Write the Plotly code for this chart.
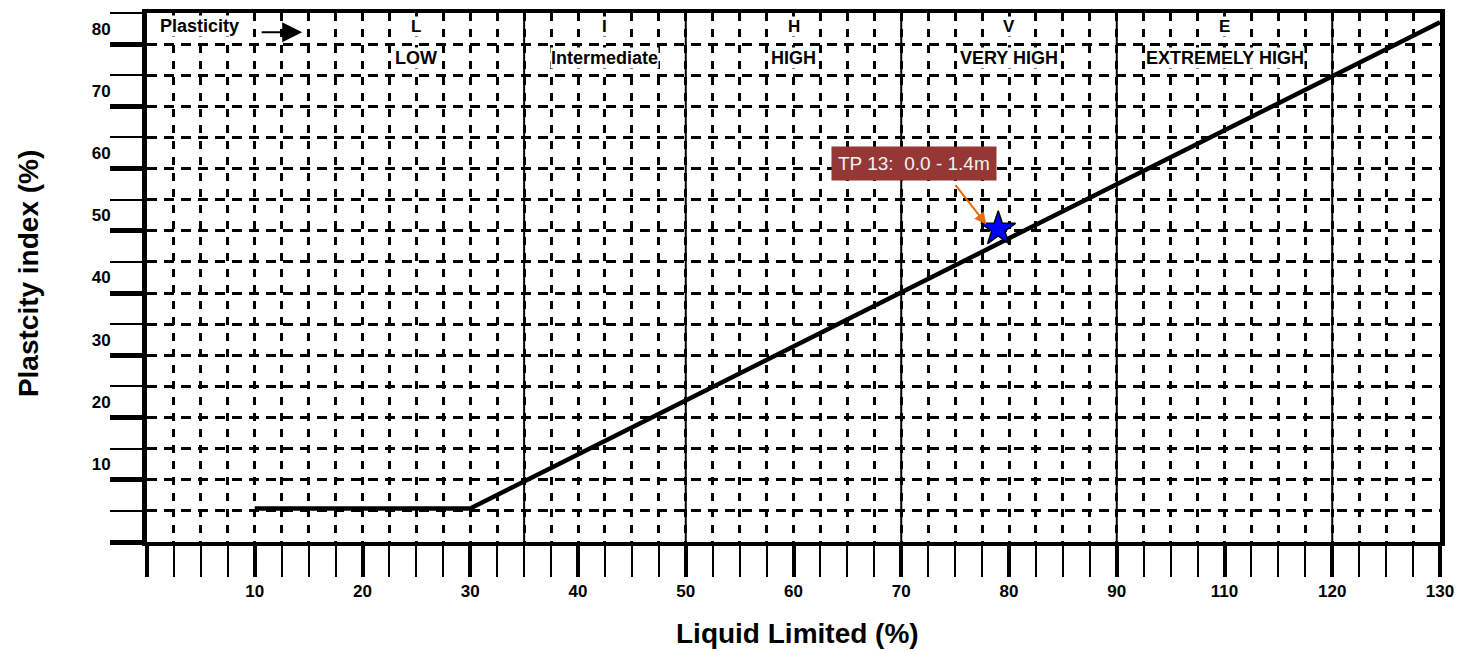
import plotly.graph_objects as go

# ---------------- data ----------------
a_line_ll = [10, 30, 120]
a_line_pi = [5.4, 5.4, 83.5]

sample_label = "TP 13:  0.0 - 1.4m"
sample_ll = [79]
sample_pi = [50.3]

zone_bounds = [35, 50, 70, 90, 110]
zone_letters = ["L", "I", "H", "V", "E"]
zone_names = ["LOW", "Intermediate", "HIGH", "VERY HIGH", "EXTREMELY HIGH"]
zone_label_x = [25, 42.5, 60, 80, 100]

x_tick_vals = [0, 10, 20, 30, 40, 50, 60, 70, 80, 90, 100, 110, 120]
x_tick_text = ["", "10", "20", "30", "40", "50", "60", "70", "80", "90", "110", "120", "130"]
y_tick_vals = [0, 10, 20, 30, 40, 50, 60, 70, 80]
y_label_vals = [12.5, 22.5, 32.5, 42.5, 52.5, 62.5, 72.5, 82.5]
y_label_text = ["10", "20", "30", "40", "50", "60", "70", "80"]

X_RANGE = [0, 120]
Y_RANGE = [0, 85]

FONT = "Arial, 'Liberation Sans', sans-serif"

fig = go.Figure()

fig.add_trace(go.Scatter(
    x=a_line_ll, y=a_line_pi, mode="lines",
    line=dict(color="black", width=4.5),
    hoverinfo="skip", showlegend=False))

fig.add_trace(go.Scatter(
    x=sample_ll, y=sample_pi, mode="markers",
    marker=dict(symbol="star", size=26, color="#0000ff",
                line=dict(color="black", width=1.5)),
    name=sample_label, showlegend=False))

# dummy trace to activate the label axis
fig.add_trace(go.Scatter(x=[None], y=[None], yaxis="y2", showlegend=False,
                         hoverinfo="skip"))

shapes = []
for b in zone_bounds:
    shapes.append(dict(type="line", xref="x", yref="y", x0=b, x1=b,
                       y0=Y_RANGE[0], y1=Y_RANGE[1],
                       line=dict(color="black", width=2)))

annotations = []
for xl, letter, name in zip(zone_label_x, zone_letters, zone_names):
    annotations.append(dict(x=xl, y=82.9, xref="x", yref="y", text=letter,
                            showarrow=False, bgcolor="white", borderpad=0,
                            font=dict(family=FONT, size=17, color="black", weight="bold")))
    annotations.append(dict(x=xl, y=77.8, xref="x", yref="y", text=name,
                            showarrow=False, bgcolor="white", borderpad=0,
                            font=dict(family=FONT, size=18, color="black", weight="bold")))

annotations.append(dict(x=4.9, y=82.9, xref="x", yref="y", text="Plasticity",
                        showarrow=False, bgcolor="white", borderpad=0,
                        font=dict(family=FONT, size=18, color="black", weight="bold")))
annotations.append(dict(x=14.4, y=81.9, xref="x", yref="y", text="",
                        showarrow=True, ax=-42, ay=0, arrowhead=2, arrowsize=2,
                        arrowwidth=2, arrowcolor="black"))

# sample callout
annotations.append(dict(x=77.9, y=51.0, xref="x", yref="y", text="",
                        showarrow=True, ax=-32, ay=-41, arrowhead=2, arrowsize=1.2,
                        arrowwidth=2, arrowcolor="#E46C0A"))
annotations.append(dict(x=71.2, y=60.8, xref="x", yref="y", text=sample_label,
                        showarrow=False, bgcolor="#953735", borderpad=6,
                        font=dict(family=FONT, size=19, color="#f2f2f2")))

# axis titles (pixel positions converted to paper coordinates below)
annotations.append(dict(x=798, y=634, xref="paper", yref="paper", text="Liquid Limited (%)",
                        showarrow=False, xanchor="center", yanchor="middle",
                        font=dict(family=FONT, size=28, color="black", weight="bold")))
annotations.append(dict(x=28, y=272, xref="paper", yref="paper", text="Plastcity index (%)",
                        showarrow=False, textangle=-90, xanchor="center", yanchor="middle",
                        font=dict(family=FONT, size=28, color="black", weight="bold")))

L, R, T, B = 147, 22, 9, 109
W, H = 1463, 651
pw, ph = W - L - R, H - T - B
for a in annotations[-2:]:
    px, py = a["x"], a["y"]
    a["x"] = (px - L) / pw
    a["y"] = (H - B - py) / ph

fig.update_layout(
    width=W, height=H,
    margin=dict(l=L, r=R, t=T, b=B),
    paper_bgcolor="white", plot_bgcolor="white",
    font=dict(family=FONT, color="black"),
    showlegend=False,
    shapes=shapes,
    annotations=annotations,
    xaxis=dict(
        range=X_RANGE, showline=True, linewidth=4, linecolor="black", mirror=True,
        zeroline=False,
        tickmode="array", tickvals=x_tick_vals, ticktext=x_tick_text,
        ticks="outside", ticklen=31, tickwidth=4, tickcolor="black",
        tickfont=dict(family=FONT, size=17, color="black", weight="bold"),
        showgrid=True, griddash="8px,8px", gridcolor="black", gridwidth=2.5,
        minor=dict(tickmode="linear", tick0=0, dtick=2.5, ticks="outside", ticklen=31,
                   tickwidth=2, tickcolor="black", showgrid=True,
                   griddash="8px,8px", gridcolor="black", gridwidth=2.5),
    ),
    yaxis=dict(
        range=Y_RANGE, showline=True, linewidth=5, linecolor="black", mirror=True,
        zeroline=False,
        tickmode="array", tickvals=y_tick_vals, showticklabels=False,
        ticks="outside", ticklen=32, tickwidth=5, tickcolor="black",
        showgrid=True, griddash="10px,7px", gridcolor="black", gridwidth=2.5,
        minor=dict(tickmode="linear", tick0=0, dtick=5, ticks="outside", ticklen=32,
                   tickwidth=1.5, tickcolor="black", showgrid=True,
                   griddash="10px,7px", gridcolor="black", gridwidth=2.5),
    ),
    yaxis2=dict(
        range=Y_RANGE, overlaying="y", side="left", showgrid=False, zeroline=False,
        showline=False, tickmode="array", tickvals=y_label_vals, ticktext=y_label_text,
        ticks="outside", ticklen=32, tickcolor="rgba(0,0,0,0)",
        tickfont=dict(family=FONT, size=17, color="black", weight="bold"),
    ),
)

fig.write_html("out.html")
